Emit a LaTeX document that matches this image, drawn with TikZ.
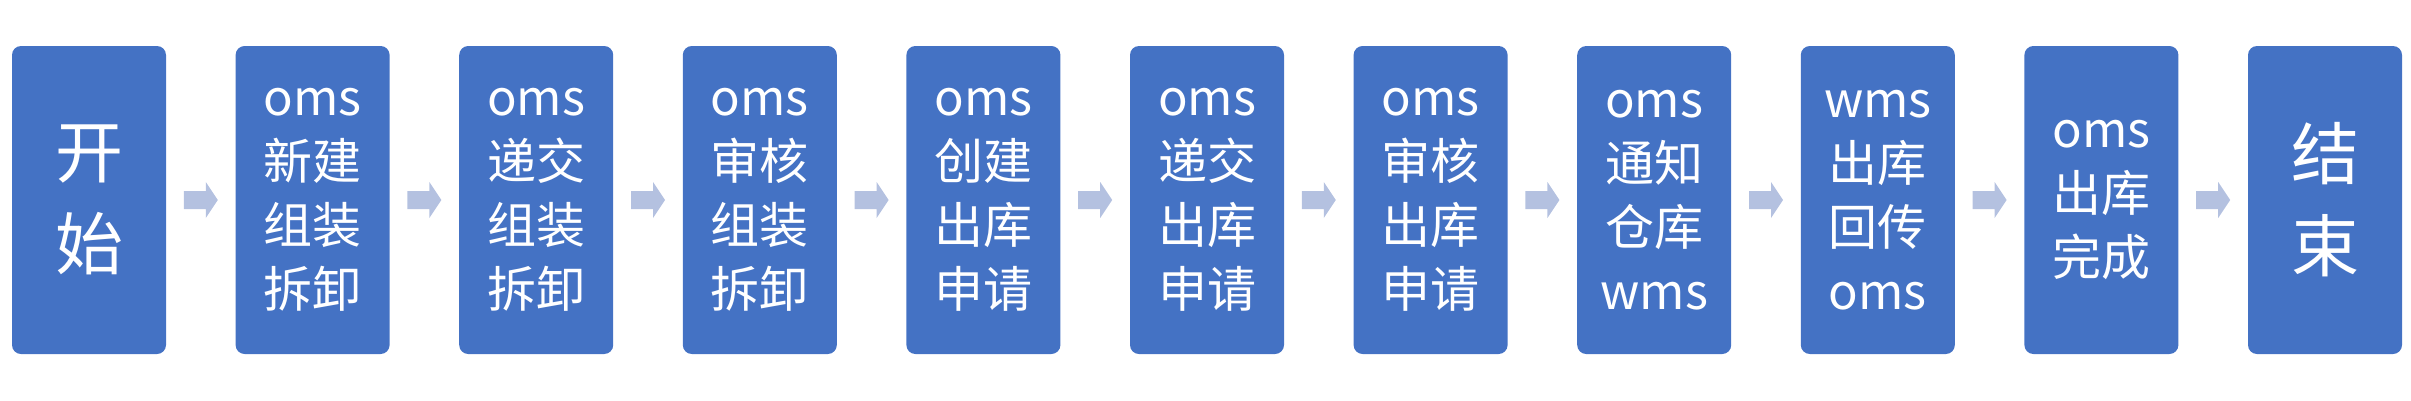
\documentclass[tikz,border=0pt]{standalone}
\usepackage{fontspec}
\setmainfont{Noto Sans CJK SC}
\begin{document}
\begin{tikzpicture}[x=1pt,y=-1pt,
 box/.style={fill=boxc,rounded corners=9pt,minimum width=154pt,minimum height=308pt,inner sep=0pt,text=white,font=\fontsize{49}{64}\selectfont,align=center},
 big/.style={font=\fontsize{68}{92}\selectfont}]
\definecolor{boxc}{HTML}{4472C4}
\definecolor{arrc}{HTML}{B4C1E0}
\useasboundingbox (0,0) rectangle (2411,400);
\foreach \i/\t/\s in {0/{开\\始}/big,1/{oms\\新建\\组装\\拆卸}/,2/{oms\\递交\\组装\\拆卸}/,3/{oms\\审核\\组装\\拆卸}/,4/{oms\\创建\\出库\\申请}/,5/{oms\\递交\\出库\\申请}/,6/{oms\\审核\\出库\\申请}/,7/{oms\\通知\\仓库\\wms}/,8/{wms\\出库\\回传\\oms}/,9/{oms\\出库\\完成}/,10/{结\\束}/big}{
  \node[box,\s] (b\i) at ({89+223.6*\i},200) {\t};
}
\foreach \i in {0,...,9}{
  \pgfmathtruncatemacro\j{\i+1}
  \path (b\i.east) -- (b\j.west) coordinate[pos=0.5] (m\i);
  \fill[arrc] ([shift={(-17,-9)}]m\i) -- ([shift={(5,-9)}]m\i) -- ([shift={(5,-18)}]m\i) -- ([shift={(17,0)}]m\i) -- ([shift={(5,18)}]m\i) -- ([shift={(5,9)}]m\i) -- ([shift={(-17,9)}]m\i) -- cycle;
}
\end{tikzpicture}
\end{document}
